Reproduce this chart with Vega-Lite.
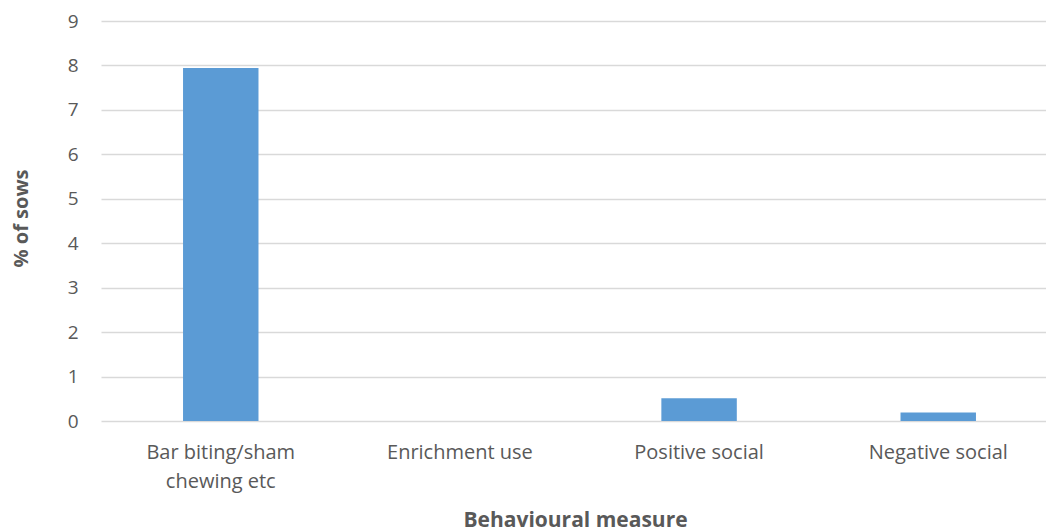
{
  "$schema": "https://vega.github.io/schema/vega-lite/v6.json",
  "autosize": {"type": "none"},
  "padding": {"left": 101, "top": 21, "right": 0, "bottom": 111},
  "width": 945,
  "height": 400,
  "background": "white",
  "config": {
    "view": {"stroke": null},
    "font": "Open Sans"
  },
  "data": {
    "values": [
      {"measure": "Bar biting/sham chewing etc", "pct": 7.94},
      {"measure": "Enrichment use", "pct": 0},
      {"measure": "Positive social", "pct": 0.51},
      {"measure": "Negative social", "pct": 0.19}
    ]
  },
  "mark": {"type": "bar", "color": "#5B9BD5"},
  "encoding": {
    "x": {
      "field": "measure",
      "type": "nominal",
      "sort": null,
      "scale": {"range": [0, 957], "paddingInner": 0.6845, "paddingOuter": 0.343},
      "axis": {
        "title": "Behavioural measure",
        "titleFont": "Open Sans",
        "titleFontSize": 21,
        "titleFontWeight": "bold",
        "titleColor": "#595959",
        "titleX": 474,
        "titleY": 99,
        "titleBaseline": "middle",
        "titleAlign": "center",
        "labelAngle": 0,
        "labelFont": "Open Sans",
        "labelFontSize": 20,
        "labelColor": "#595959",
        "labelPadding": 31,
        "labelLineHeight": 29,
        "labelBaseline": "middle",
        "labelExpr": "datum.label == 'Bar biting/sham chewing etc' ? ['Bar biting/sham', 'chewing etc'] : datum.label",
        "ticks": false,
        "domain": false,
        "grid": false
      }
    },
    "y": {
      "field": "pct",
      "type": "quantitative",
      "scale": {"domain": [0, 9], "nice": false},
      "axis": {
        "title": "% of sows",
        "titleFont": "Open Sans",
        "titleFontSize": 20,
        "titleFontWeight": "bold",
        "titleColor": "#595959",
        "titleAngle": -90,
        "titleX": -80,
        "titleY": 197,
        "titleAlign": "center",
        "titleBaseline": "middle",
        "values": [0, 1, 2, 3, 4, 5, 6, 7, 8, 9],
        "labelFont": "Open Sans",
        "labelFontSize": 19,
        "labelColor": "#595959",
        "labelPadding": 23,
        "ticks": false,
        "domain": false,
        "grid": true,
        "gridColor": "#D9D9D9",
        "gridWidth": 1.3
      }
    }
  }
}
